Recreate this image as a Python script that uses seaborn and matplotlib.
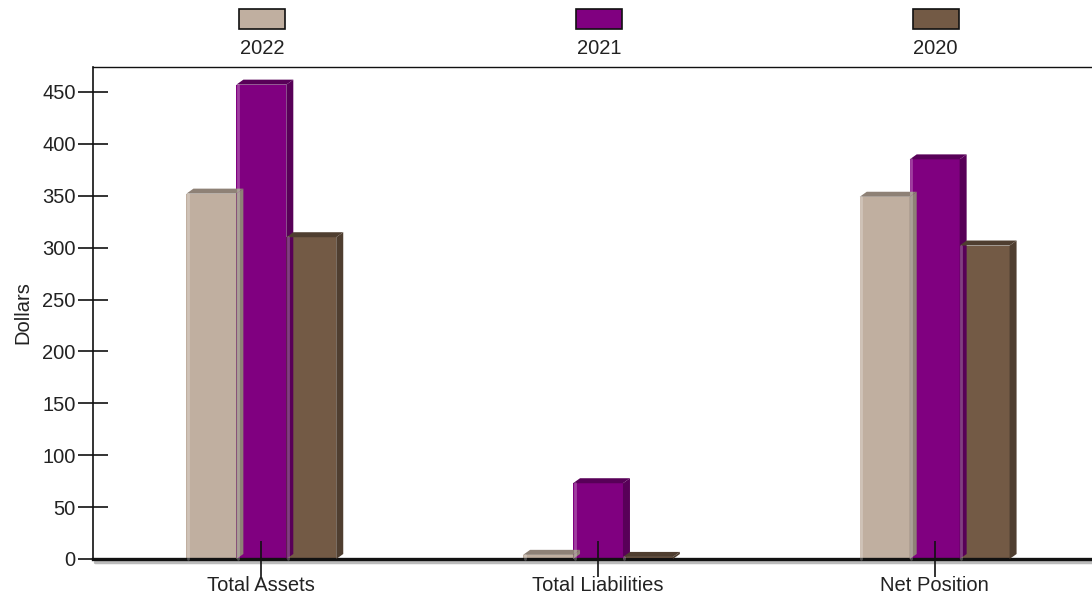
import matplotlib
matplotlib.use("Agg")
import matplotlib.pyplot as plt
import matplotlib.transforms as mtransforms
from matplotlib.patches import Polygon, Rectangle
from matplotlib.lines import Line2D
import numpy as np
import pandas as pd
import seaborn as sns

# ---- data -------------------------------------------------------------
categories = ["Total Assets", "Total Liabilities", "Net Position"]
years = ["2022", "2021", "2020"]
values_2022 = [352, 4, 349]
values_2021 = [457, 73, 385]
values_2020 = [310, 2, 302]
y_ticks = [0, 50, 100, 150, 200, 250, 300, 350, 400, 450]

face_colors = {"2022": "#C0AFA0", "2021": "#800080", "2020": "#735A45"}
side_colors = {"2022": "#8E8176", "2021": "#580058", "2020": "#4F3E30"}

df = pd.DataFrame({
    "category": categories * 3,
    "year": [years[0]] * 3 + [years[1]] * 3 + [years[2]] * 3,
    "value": values_2022 + values_2021 + values_2020,
})

sns.set_theme(style="white")
plt.rcParams["font.family"] = ["Liberation Sans", "DejaVu Sans"]

FS = 14.5
fig = plt.figure(figsize=(10.92, 5.95), dpi=100)
W, H = 1092, 595
ax = fig.add_axes([93 / W, 36 / H, 1010 / W, (559 - 67) / H])

sns.barplot(data=df, x="category", y="value", hue="year", order=categories,
            hue_order=years, palette=face_colors, width=0.445, ax=ax,
            saturation=1, legend=False, linewidth=0, zorder=2)

ax.set_xlim(-0.5, 2.5)
ax.set_ylim(0, 474)
ax.set_yticks(y_ticks)
ax.set_ylabel("Dollars", fontsize=FS, color="#222222", labelpad=7)
ax.set_xlabel("")

# ---- 3D depth on each bar (top face and right side) -------------------
dx, dy = 7, 5  # depth in pixels
to_disp = ax.transData
for container, year in zip(ax.containers, years):
    for bar in container:
        x0, y0 = bar.get_x(), bar.get_y()
        x1, y1 = x0 + bar.get_width(), y0 + bar.get_height()
        (px0, py0), (px1, py1) = to_disp.transform([(x0, y0), (x1, y1)])
        top = Polygon([(px0, py1), (px1, py1), (px1 + dx, py1 + dy), (px0 + dx, py1 + dy)],
                      closed=True, transform=None, facecolor=side_colors[year],
                      edgecolor="none", zorder=2)
        side = Polygon([(px1, py0), (px1 + dx, py0 + dy), (px1 + dx, py1 + dy), (px1, py1)],
                       closed=True, transform=None, facecolor=side_colors[year],
                       edgecolor="none", zorder=2)
        fig.add_artist(top)
        fig.add_artist(side)
        # light highlight strip on the left edge of the front face
        hl = Line2D([px0 + 1.5, px0 + 1.5], [py0, py1], transform=None,
                    color="white", alpha=0.25, lw=2, zorder=2.1)
        fig.add_artist(hl)

# ---- axes styling -----------------------------------------------------
for s in ["top", "left", "bottom"]:
    ax.spines[s].set_visible(True)
    ax.spines[s].set_color("#111111")
ax.spines["right"].set_visible(False)
ax.spines["top"].set_linewidth(1.0)
ax.spines["left"].set_linewidth(1.2)
ax.spines["bottom"].set_linewidth(2.4)
ax.set_axisbelow(False)

# soft shadow under the base line
shadow = mtransforms.offset_copy(ax.transAxes, fig=fig, x=2, y=-3, units="dots")
ax.add_line(Line2D([0, 1], [0, 0], transform=shadow, color="#BBBBBB",
                   lw=2.5, clip_on=False, zorder=1))

ax.tick_params(axis="y", direction="inout", length=21, width=1.2, color="#111111",
               labelsize=FS, labelcolor="#222222", pad=2, left=True)
ax.tick_params(axis="x", direction="inout", length=26, width=1.2, color="#111111",
               labelsize=FS, labelcolor="#222222", pad=-1, bottom=True)

# ---- legend across the top, one key above each category -------------
blend = mtransforms.blended_transform_factory(ax.transData, fig.transFigure)
for i, year in enumerate(years):
    key_w = 46 / 337  # key width in category units
    ax.add_patch(Rectangle((i - key_w / 2 + 0.003, (595 - 29) / H), key_w, 20 / H,
                           transform=blend, facecolor=face_colors[year],
                           edgecolor="#111111", lw=1.2, clip_on=False))
    ax.text(i + 0.003, (595 - 46) / H, year, transform=blend, ha="center",
            va="center_baseline", fontsize=FS, color="#222222")

fig.savefig("out.png", dpi=100)
